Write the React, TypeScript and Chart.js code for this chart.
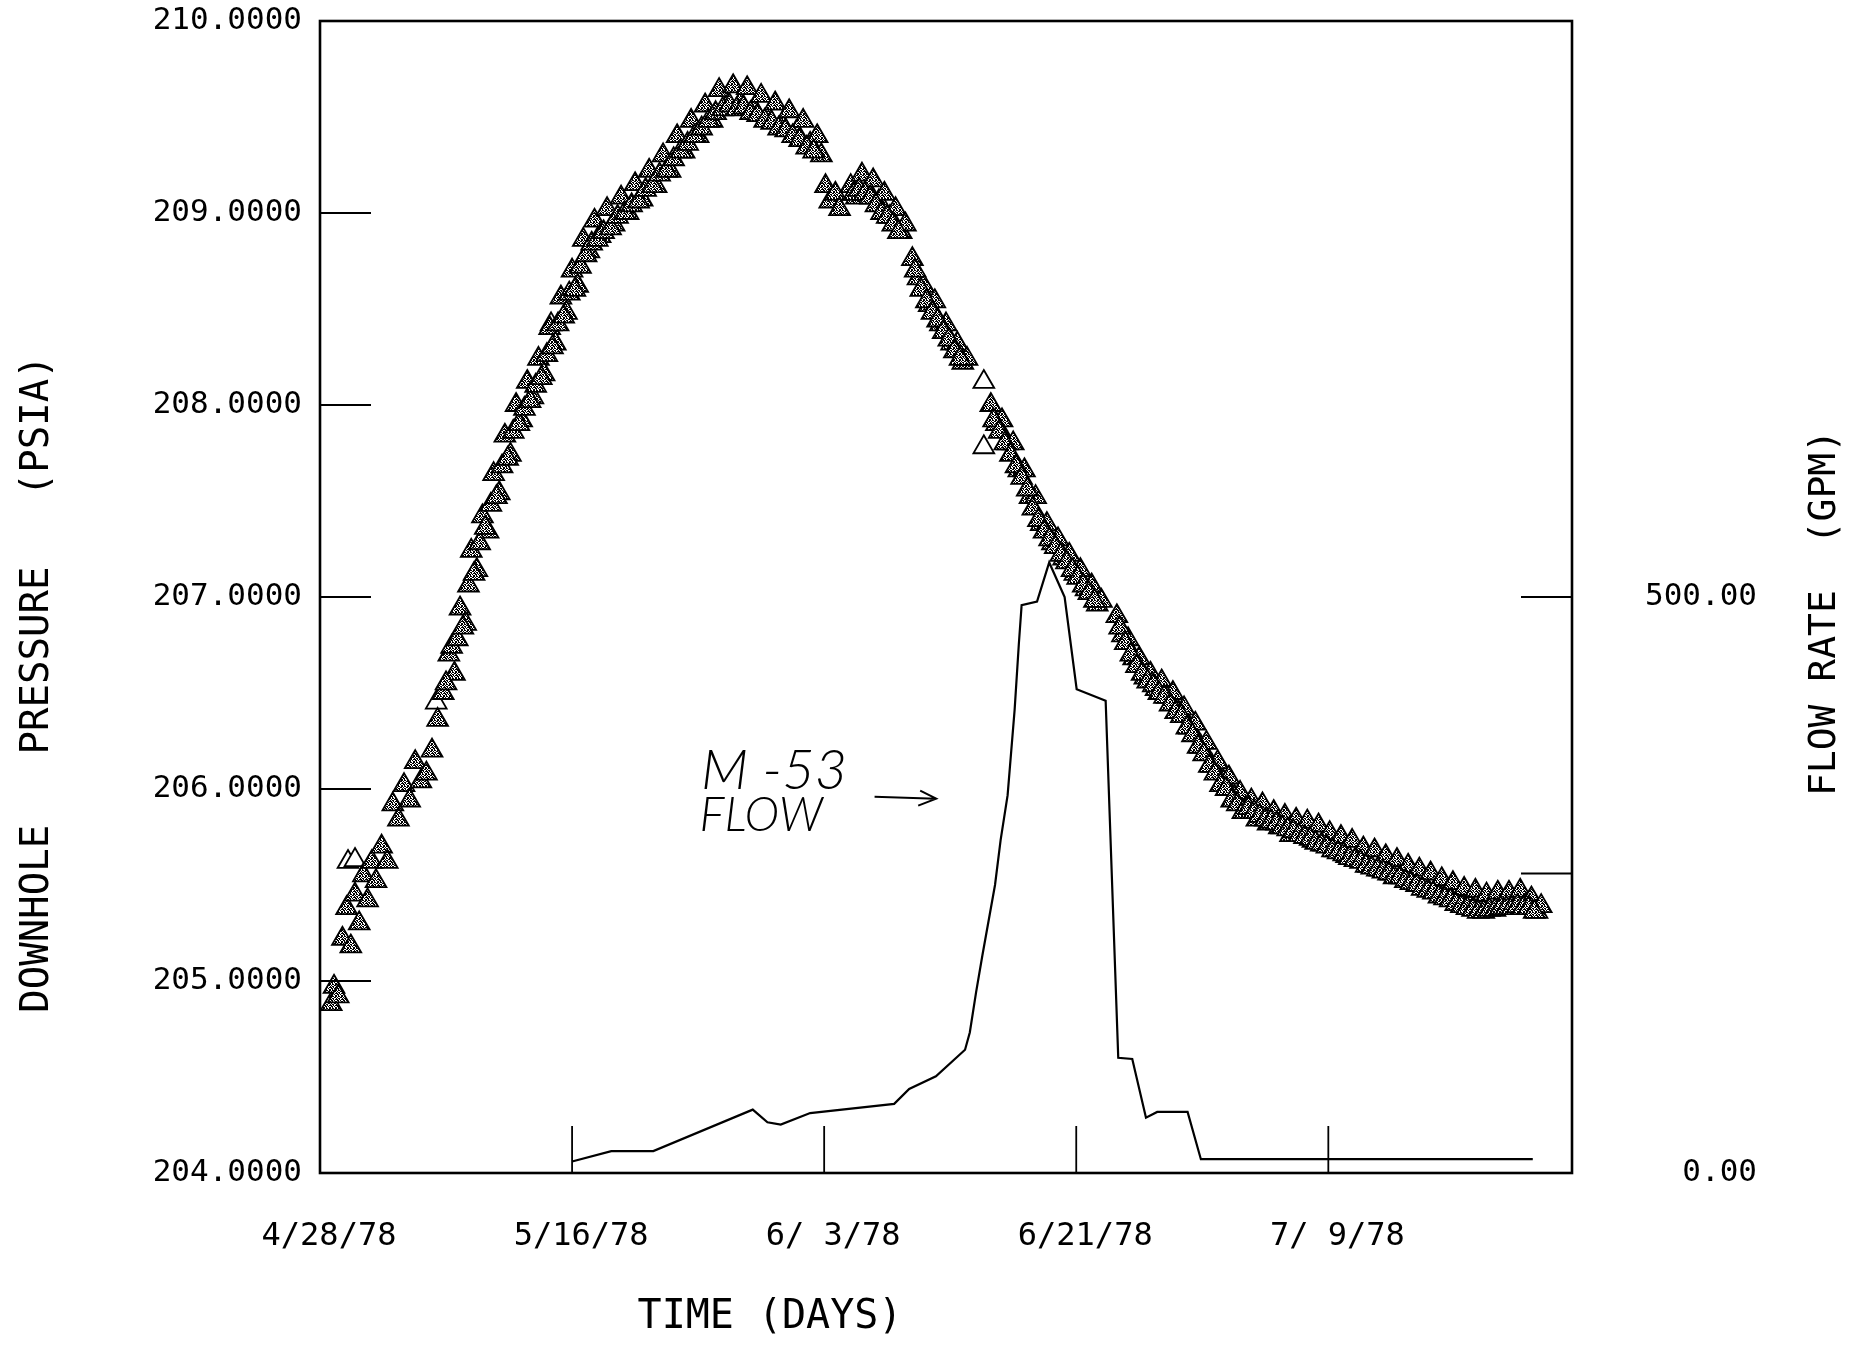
import React, { useEffect, useRef } from "react";
import { Chart, registerables } from "chart.js";

Chart.register(...registerables);

// ---------- data ----------
const xTickDays = [0, 18, 36, 54, 72];
const xTickLabels = ["4/28/78", "5/16/78", "6/ 3/78", "6/21/78", "7/ 9/78"];
const pressureTicks = [204, 205, 206, 207, 208, 209, 210];
const flowTicks = [0, 500];
const flowMinorTicks = [260];

// downhole pressure readings (psia) vs. days after 4/28/78
const pressureDays = [
  0.8, 1.0, 1.3, 1.6, 1.9, 2.2, 2.5, 2.8, 3.1, 3.4, 3.7, 4.0, 4.4, 4.8, 5.2, 5.6, 6.0, 6.4,
  6.8, 7.2, 7.6, 8.0, 8.4, 8.8, 9.2, 9.6, 10.0, 10.4, 10.8, 11.2, 11.6, 12.0, 12.4, 12.8,
  13.2, 13.6, 14.0, 14.4, 14.8, 15.2, 15.6, 16.0, 16.4, 16.8, 17.2, 17.6, 18.0, 18.4, 18.8,
  19.2, 19.6, 20.0, 20.5, 21.0, 21.5, 22.0, 22.5, 23.0, 23.5, 24.0, 24.5, 25.0, 25.5, 26.0,
  26.5, 27.0, 27.5, 28.0, 28.5, 29.0, 29.5, 30.0, 30.5, 31.0, 31.5, 32.0, 32.5, 33.0, 33.5,
  34.0, 34.5, 35.0, 35.5, 35.8, 36.1, 36.4, 36.8, 37.1, 37.9, 38.3, 38.7, 39.1, 39.5, 39.9,
  40.3, 40.7, 41.1, 41.5, 41.8, 42.3, 42.7, 43.1, 43.5, 43.9, 44.3, 44.7, 45.1, 45.5, 45.9,
  46.2, 47.9, 48.3, 48.7, 49.1, 49.5, 49.9, 50.3, 50.7, 51.1, 51.5, 51.9, 52.3, 52.7, 53.1,
  53.5, 53.9, 54.3, 54.7, 55.1, 55.5, 55.8, 56.9, 57.3, 57.7, 58.1, 58.5, 58.9, 59.3, 59.7,
  60.1, 60.5, 60.9, 61.3, 61.7, 62.1, 62.5, 62.9, 63.3, 63.7, 64.1, 64.5, 64.9, 65.3, 65.7,
  66.1, 66.5, 66.9, 67.3, 67.7, 68.1, 68.5, 68.9, 69.3, 69.7, 70.1, 70.5, 70.9, 71.3, 71.7,
  72.1, 72.5, 72.9, 73.3, 73.7, 74.1, 74.5, 74.9, 75.3, 75.7, 76.1, 76.5, 76.9, 77.3, 77.7,
  78.1, 78.5, 78.9, 79.3, 79.7, 80.1, 80.5, 80.9, 81.3, 81.7, 82.1, 82.5, 82.9, 83.3, 83.7,
  84.1, 84.5, 84.9, 85.3, 85.7, 86.1, 86.5, 86.9, 87.2,
];
const pressureValues = [
  204.88, 204.97, 204.92, 205.22, 205.38, 205.18, 205.45, 205.3, 205.55, 205.42, 205.62,
  205.52, 205.7, 205.62, 205.92, 205.84, 206.02, 205.94, 206.14, 206.04, 206.08, 206.2,
  206.36, 206.5, 206.7, 206.6, 206.94, 206.86, 207.24, 207.14, 207.42, 207.34, 207.64,
  207.54, 207.84, 207.74, 208.0, 207.92, 208.12, 208.04, 208.24, 208.16, 208.4, 208.32,
  208.56, 208.48, 208.7, 208.62, 208.86, 208.8, 208.96, 208.88, 209.02, 208.94, 209.08,
  209.0, 209.15, 209.07, 209.22, 209.14, 209.3, 209.22, 209.4, 209.32, 209.48, 209.4,
  209.56, 209.48, 209.64, 209.55, 209.66, 209.57, 209.65, 209.54, 209.61, 209.5, 209.57,
  209.46, 209.53, 209.42, 209.48, 209.36, 209.4, 209.3, 209.14, 209.06, 209.1, 209.02,
  209.14, 209.08, 209.2, 209.12, 209.17, 209.06, 209.1, 208.98, 209.02, 208.9, 208.94,
  208.76, 208.66, 208.62, 208.52, 208.54, 208.42, 208.42, 208.32, 208.32, 208.22, 208.24,
  208.0, 207.9, 207.92, 207.8, 207.8, 207.66, 207.66, 207.52, 207.52, 207.38, 207.38,
  207.28, 207.3, 207.2, 207.22, 207.12, 207.14, 207.04, 207.06, 206.96, 206.98, 206.9,
  206.8, 206.78, 206.68, 206.68, 206.58, 206.6, 206.52, 206.56, 206.48, 206.5, 206.4,
  206.42, 206.32, 206.34, 206.22, 206.24, 206.12, 206.14, 206.04, 206.06, 205.96, 205.98,
  205.9, 205.94, 205.84, 205.92, 205.82, 205.88, 205.8, 205.86, 205.76, 205.84, 205.77,
  205.83, 205.73, 205.81, 205.71, 205.77, 205.68, 205.75, 205.65, 205.73, 205.63, 205.69,
  205.6, 205.68, 205.58, 205.65, 205.56, 205.63, 205.54, 205.6, 205.52, 205.58, 205.5,
  205.56, 205.48, 205.53, 205.46, 205.51, 205.43, 205.48, 205.41, 205.47, 205.39, 205.45,
  205.4, 205.46, 205.38, 205.46, 205.39, 205.47, 205.39, 205.43, 205.36, 205.39,
];

// additional readings filling the dense band
const pressureDaysB = [
  9.0, 9.4, 9.8, 10.2, 10.6, 11.0, 11.4, 11.8, 12.2, 12.6, 13.0, 13.4, 13.8, 14.2, 14.6, 15.0,
  15.4, 15.8, 16.2, 16.6, 17.0, 17.4, 17.8, 18.2, 18.6, 19.0, 19.4, 19.8, 20.25, 20.75, 21.25,
  21.75, 22.25, 22.75, 23.25, 23.75, 24.25, 24.75, 25.25, 25.75, 26.25, 26.75, 27.25, 27.75,
  28.25, 28.75, 29.25, 29.75, 30.25, 30.75, 31.25, 31.75, 32.25, 32.75, 33.25, 33.75, 34.25,
  34.75, 35.25, 38.1, 38.5, 38.9, 39.3, 39.7, 40.1, 40.5, 40.9, 41.3, 42.5, 42.9, 43.3, 43.7,
  44.1, 44.5, 44.9, 45.3, 45.7, 48.1, 48.5, 48.9, 49.3, 49.7, 50.1, 50.5, 50.9, 51.3, 51.7,
  52.1, 52.5, 52.9, 53.3, 53.7, 54.1, 54.5, 54.9, 55.3, 57.1, 57.5, 57.9, 58.3, 58.7, 59.1,
  59.5, 59.9, 60.3, 60.7, 61.1, 61.5, 61.9, 62.3, 62.7, 63.1, 63.5, 63.9, 64.3, 64.7, 65.1,
  65.5, 65.9, 66.3, 66.7, 67.1, 67.5, 67.9, 68.3, 68.7, 69.1, 69.5, 69.9, 70.3, 70.7, 71.1,
  71.5, 71.9, 72.3, 72.7, 73.1, 73.5, 73.9, 74.3, 74.7, 75.1, 75.5, 75.9, 76.3, 76.7, 77.1,
  77.5, 77.9, 78.3, 78.7, 79.1, 79.5, 79.9, 80.3, 80.7, 81.1, 81.5, 81.9, 82.3, 82.7, 83.1,
  83.5, 83.9, 84.3, 84.7, 85.1, 85.5, 85.9, 86.3, 86.7,
];
const pressureValuesB = [
  206.55, 206.74, 206.78, 206.84, 207.06, 207.12, 207.28, 207.36, 207.48, 207.52, 207.68,
  207.72, 207.86, 207.9, 207.98, 208.02, 208.1, 208.14, 208.26, 208.3, 208.42, 208.46,
  208.58, 208.6, 208.72, 208.78, 208.84, 208.86, 208.9, 208.92, 208.98, 209.0, 209.04,
  209.06, 209.12, 209.14, 209.2, 209.22, 209.28, 209.32, 209.36, 209.4, 209.44, 209.48,
  209.52, 209.54, 209.56, 209.54, 209.55, 209.52, 209.51, 209.48, 209.47, 209.44, 209.43,
  209.4, 209.38, 209.34, 209.32, 209.1, 209.12, 209.1, 209.08, 209.04, 209.0, 208.98,
  208.94, 208.9, 208.7, 208.6, 208.54, 208.48, 208.44, 208.38, 208.34, 208.28, 208.24,
  207.92, 207.86, 207.8, 207.74, 207.68, 207.62, 207.56, 207.46, 207.4, 207.34, 207.3,
  207.26, 207.22, 207.18, 207.14, 207.1, 207.06, 207.02, 206.98, 206.84, 206.76, 206.7,
  206.64, 206.6, 206.56, 206.54, 206.5, 206.48, 206.44, 206.4, 206.38, 206.32, 206.28,
  206.22, 206.18, 206.12, 206.08, 206.02, 206.0, 205.94, 205.92, 205.88, 205.9, 205.88,
  205.86, 205.84, 205.83, 205.82, 205.8, 205.79, 205.78, 205.76, 205.75, 205.74, 205.72,
  205.71, 205.7, 205.68, 205.67, 205.66, 205.64, 205.63, 205.62, 205.6, 205.59, 205.58,
  205.57, 205.56, 205.54, 205.54, 205.52, 205.51, 205.5, 205.48, 205.47, 205.46, 205.44,
  205.43, 205.42, 205.4, 205.39, 205.38, 205.37, 205.36, 205.36, 205.37, 205.37, 205.38,
  205.38, 205.38, 205.39, 205.38, 205.38, 205.36,
];

// isolated (open) triangles
const hollowDays = [2.0, 2.5, 8.3, 16.5, 47.4, 47.4];
const hollowValues = [205.62, 205.63, 206.45, 208.42, 208.12, 207.78];

// M-53 flow rate (gpm)
const flowDays = [
  18, 20.8, 23.8, 30.9, 31.95, 32.9, 35.0, 41.0, 42.07, 43.98, 46.06, 46.4, 46.85, 47.3, 48.2,
  48.6, 49.1, 49.6, 49.9, 50.1, 51.2, 52.07, 53.17, 54.03, 56.1, 57.0, 58.0, 58.98, 59.78,
  61.95, 62.9, 86.6,
];
const flowValues = [
  10, 19, 19, 55, 44, 42, 52, 60, 73, 84, 107, 122, 157, 189, 250, 289, 328, 402, 459, 493,
  496, 530, 500, 420, 410, 100, 99, 48, 53, 53, 12, 12,
];

// annotation text anchors (days / psia)
const noteLines = ["M -53", "FLOW"];
const noteDays = [27.2, 27.1];
const notePressures = [206.0, 205.78];
const arrowDays = [39.6, 44.0];
const arrowPressure = 205.96;

export default function App() {
  const ref = useRef<HTMLCanvasElement | null>(null);

  useEffect(() => {
    const canvas = ref.current;
    if (!canvas) return;

    // stipple pattern for the dense triangle marks
    const pc = document.createElement("canvas");
    pc.width = 6;
    pc.height = 6;
    const pctx = pc.getContext("2d")!;
    pctx.fillStyle = "#ffffff";
    pctx.fillRect(0, 0, 6, 6);
    pctx.fillStyle = "#000000";
    const dots = [
      [0, 0], [2, 0], [3, 0], [5, 0], [1, 1], [4, 1], [5, 1], [0, 2], [2, 2], [3, 2],
      [0, 3], [1, 3], [3, 3], [5, 3], [1, 4], [2, 4], [4, 4], [0, 5], [2, 5], [5, 5],
    ];
    dots.forEach(([px, py]) => pctx.fillRect(px, py, 1, 1));
    const ctx0 = canvas.getContext("2d")!;
    const stipple = ctx0.createPattern(pc, "repeat");

    const mono = "'DejaVu Sans Mono', 'Liberation Mono', monospace";

    const decorations = {
      id: "decorations",
      afterDatasetsDraw(chart: any) {
        const { ctx, chartArea: a, scales } = chart;
        const xs = scales.x;
        const ys = scales.y;
        const y1 = scales.y1;
        ctx.save();
        ctx.strokeStyle = "#000";
        ctx.lineCap = "butt";
        // frame
        ctx.lineWidth = 2.6;
        ctx.strokeRect(a.left, a.top, a.right - a.left, a.bottom - a.top);
        // inward ticks
        ctx.lineWidth = 2;
        pressureTicks.forEach((v) => {
          if (v <= ys.min || v >= ys.max) return;
          const py = ys.getPixelForValue(v);
          ctx.beginPath();
          ctx.moveTo(a.left, py);
          ctx.lineTo(a.left + 51, py);
          ctx.stroke();
        });
        flowTicks.concat(flowMinorTicks).forEach((v) => {
          if (v <= y1.min || v >= y1.max) return;
          const py = y1.getPixelForValue(v);
          ctx.beginPath();
          ctx.moveTo(a.right - 51, py);
          ctx.lineTo(a.right, py);
          ctx.stroke();
        });
        ctx.lineWidth = 1.8;
        xTickDays.forEach((v) => {
          if (v <= xs.min || v >= xs.max) return;
          const px = xs.getPixelForValue(v);
          ctx.beginPath();
          ctx.moveTo(px, a.bottom);
          ctx.lineTo(px, a.bottom - 47);
          ctx.stroke();
        });

        // handwritten annotation
        ctx.fillStyle = "#000";
        ctx.textAlign = "left";
        ctx.textBaseline = "alphabetic";
        ctx.font = "italic 300 56px Lato, 'DejaVu Sans', sans-serif";
        ctx.fillText(noteLines[0], xs.getPixelForValue(noteDays[0]), ys.getPixelForValue(notePressures[0]));
        ctx.font = "italic 300 47px Lato, 'DejaVu Sans', sans-serif";
        ctx.fillText(noteLines[1], xs.getPixelForValue(noteDays[1]), ys.getPixelForValue(notePressures[1]));
        const ax0 = xs.getPixelForValue(arrowDays[0]);
        const ax1 = xs.getPixelForValue(arrowDays[1]);
        const ay = ys.getPixelForValue(arrowPressure);
        ctx.lineWidth = 2;
        ctx.beginPath();
        ctx.moveTo(ax0, ay);
        ctx.lineTo(ax1, ay + 2);
        ctx.moveTo(ax1 - 16, ay - 6);
        ctx.lineTo(ax1, ay + 2);
        ctx.lineTo(ax1 - 18, ay + 9);
        ctx.stroke();
        ctx.restore();
      },
      afterDraw(chart: any) {
        const { ctx } = chart;
        ctx.save();
        ctx.fillStyle = "#000";
        ctx.textAlign = "center";
        ctx.textBaseline = "middle";
        ctx.font = `39px ${mono}`;
        ctx.translate(38, 684);
        ctx.rotate(-Math.PI / 2);
        ctx.fillText("DOWNHOLE   PRESSURE   (PSIA)", 0, 0);
        ctx.restore();

        ctx.save();
        ctx.fillStyle = "#000";
        ctx.textAlign = "center";
        ctx.textBaseline = "middle";
        ctx.font = `38px ${mono}`;
        ctx.translate(1825, 613);
        ctx.rotate(-Math.PI / 2);
        ctx.fillText("FLOW RATE  (GPM)", 0, 0);
        ctx.restore();

        ctx.save();
        ctx.fillStyle = "#000";
        ctx.textAlign = "center";
        ctx.textBaseline = "middle";
        ctx.font = `40px ${mono}`;
        ctx.fillText("TIME (DAYS)", 770, 1318);
        ctx.restore();
      },
    };

    const triangleStyle = {
      showLine: false,
      pointStyle: "triangle",
      pointRadius: 12,
      pointBorderWidth: 1.8,
      pointBorderColor: "#000",
    };

    const chart = new Chart(canvas, {
      type: "scatter",
      data: {
        datasets: [
          {
            label: "M-53 flow",
            data: flowDays.map((d, i) => ({ x: d, y: flowValues[i] })),
            yAxisID: "y1",
            showLine: true,
            borderColor: "#000",
            borderWidth: 2.2,
            pointRadius: 0,
            tension: 0,
            fill: false,
          },
          {
            label: "Downhole pressure (b)",
            data: pressureDaysB.map((d, i) => ({ x: d, y: pressureValuesB[i] })),
            yAxisID: "y",
            ...triangleStyle,
            pointBackgroundColor: stipple as any,
          },
          {
            label: "Downhole pressure",
            data: pressureDays.map((d, i) => ({ x: d, y: pressureValues[i] })),
            yAxisID: "y",
            ...triangleStyle,
            pointBackgroundColor: stipple as any,
          },
          {
            label: "Downhole pressure (isolated)",
            data: hollowDays.map((d, i) => ({ x: d, y: hollowValues[i] })),
            yAxisID: "y",
            ...triangleStyle,
            pointBackgroundColor: "#ffffff",
          },
        ],
      },
      options: {
        animation: false,
        responsive: true,
        maintainAspectRatio: false,
        devicePixelRatio: 1,
        layout: { padding: { top: 21, left: 0, right: 0, bottom: 0 } },
        plugins: {
          legend: { display: false },
          tooltip: { enabled: false },
        },
        scales: {
          x: {
            type: "linear",
            position: "bottom",
            min: 0,
            max: 89.4,
            grid: { display: false, drawTicks: false },
            border: { display: false },
            afterBuildTicks: (s: any) => {
              s.ticks = xTickDays.map((v) => ({ value: v }));
            },
            afterFit: (s: any) => {
              s.height = 175;
              s.paddingLeft = 0;
              s.paddingRight = 0;
            },
            ticks: {
              autoSkip: false,
              maxRotation: 0,
              minRotation: 0,
              padding: 44,
              labelOffset: 9,
              color: "#000",
              font: { family: mono, size: 32 },
              callback: (_v: any, i: number) => xTickLabels[i],
            },
          },
          y: {
            type: "linear",
            position: "left",
            min: 204,
            max: 210,
            grid: { display: false, drawTicks: false },
            border: { display: false },
            afterBuildTicks: (s: any) => {
              s.ticks = pressureTicks.map((v) => ({ value: v }));
            },
            afterFit: (s: any) => {
              s.width = 320;
              s.paddingTop = 0;
              s.paddingBottom = 0;
            },
            ticks: {
              padding: 18,
              color: "#000",
              font: { family: mono, size: 31 },
              callback: (v: any) => Number(v).toFixed(4),
            },
          },
          y1: {
            type: "linear",
            position: "right",
            min: 0,
            max: 1000,
            grid: { display: false, drawTicks: false },
            border: { display: false },
            afterBuildTicks: (s: any) => {
              s.ticks = flowTicks.map((v) => ({ value: v }));
            },
            afterFit: (s: any) => {
              s.width = 277;
              s.paddingTop = 0;
              s.paddingBottom = 0;
            },
            ticks: {
              padding: 73,
              crossAlign: "near",
              color: "#000",
              font: { family: mono, size: 31 },
              callback: (v: any) => Number(v).toFixed(2).padStart(6, " "),
            },
          },
        },
      },
      plugins: [decorations],
    } as any);

    return () => {
      chart.destroy();
    };
  }, []);

  return (
    <div
      style={{
        position: "fixed",
        left: 0,
        top: 0,
        width: 1849,
        height: 1348,
        background: "#ffffff",
      }}
    >
      <canvas ref={ref} />
    </div>
  );
}
